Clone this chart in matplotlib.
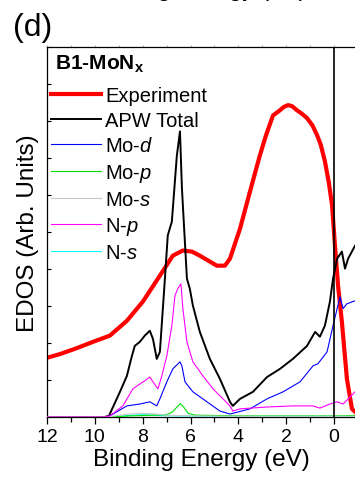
import matplotlib
matplotlib.use('Agg')
import matplotlib.pyplot as plt
from matplotlib.ticker import MultipleLocator

plt.rcParams['font.family'] = ['Liberation Sans', 'DejaVu Sans']
plt.rcParams['mathtext.fontset'] = 'custom'
plt.rcParams['mathtext.rm'] = 'Liberation Sans'
plt.rcParams['mathtext.it'] = 'Liberation Sans:italic'
plt.rcParams['mathtext.bf'] = 'Liberation Sans:bold'

# experiment (red)
e_exp = [12.0, 11.46, 10.8, 10.08, 9.37, 8.66, 7.99, 7.28, 6.74, 6.32, 5.94, 5.61, 4.90, 4.56,
         4.35, 3.93, 3.51, 3.10, 2.85, 2.55, 2.26, 2.1, 1.92, 1.75, 1.55, 1.35, 1.13, 0.9, 0.71,
         0.55, 0.38, 0.22, 0.08, -0.04, -0.17, -0.33, -0.54, -0.75, -0.88]
y_exp = [16.0, 17.0, 18.5, 20.3, 22.0, 26.0, 31.2, 38.2, 43.6, 45.0, 44.7, 43.6, 40.9, 40.9,
         42.8, 50.9, 61.0, 70.7, 76.0, 81.5, 82.9, 83.8, 84.3, 84.0, 82.9, 82.0, 80.8, 78.8, 76.2,
         73.5, 69.1, 63.5, 57.2, 46.3, 35.5, 25.7, 10.3, 2.2, 1.4]

# APW total (black)
e_tot = [12.0, 9.6, 9.41, 8.95, 8.66, 8.45, 8.33, 8.12, 7.91, 7.70, 7.57, 7.41, 7.28, 7.07, 6.95,
         6.78, 6.57, 6.44, 6.36, 6.15, 6.03, 5.90, 5.61, 5.19, 4.77, 4.35, 4.23, 3.93, 3.39,
         2.80, 2.26, 1.72, 1.13, 0.79, 0.59, 0.38, 0.17, 0.04, -0.13, -0.33, -0.46, -0.59, -0.88]
y_tot = [0.0, 0.0, 0.3, 6.8, 11.1, 16.5, 19.2, 20.3, 22.0, 23.3, 21.1, 15.7, 17.6, 37.4, 49.1,
         52.8, 70.7, 77.2, 62.0, 37.4, 34.7, 30.1, 23.0, 15.7, 10.3, 4.1, 3.0, 4.9, 6.8,
         10.8, 13.0, 15.7, 19.2, 23.0, 21.7, 24.7, 31.2, 37.4, 42.8, 44.7, 40.1, 42.8, 46.3]

# Mo-d (blue)
e_mod = [12.0, 9.6, 9.37, 8.66, 8.12, 7.70, 7.41, 7.28, 6.99, 6.74, 6.44, 6.36, 6.23, 5.90, 5.31,
         4.77, 4.35, 3.51, 2.80, 2.13, 1.42, 0.88, 0.67, 0.29, 0.04, -0.25, -0.38, -0.54, -0.88]
y_mod = [0.0, 0.0, 0.3, 3.0, 3.5, 4.1, 3.0, 4.9, 9.5, 13.0, 14.9, 13.8, 9.5, 6.8, 4.1,
         1.6, 0.8, 2.2, 4.9, 6.8, 9.5, 13.8, 14.4, 17.6, 24.7, 32.5, 29.3, 30.6, 31.4]

# Mo-p (green)
e_mop = [12.0, 9.5, 8.5, 7.5, 7.0, 6.75, 6.55, 6.42, 6.3, 6.1, 5.8, 4.0, 2.0, 0.0, -0.88]
y_mop = [0.0, 0.0, 0.3, 0.5, 0.6, 1.4, 2.8, 3.6, 2.8, 1.0, 0.5, 0.3, 0.3, 0.3, 0.4]

# Mo-s (gray)
e_mos = [12.0, 9.5, 8.8, 8.2, 7.6, 7.0, 6.0, 4.0, 0.0, -0.88]
y_mos = [0.0, 0.0, 0.6, 1.0, 0.9, 0.5, 0.3, 0.2, 0.2, 0.2]

# N-p (magenta)
e_np = [12.0, 9.6, 9.37, 8.83, 8.41, 8.12, 7.91, 7.70, 7.57, 7.36, 7.20, 6.99, 6.78, 6.65, 6.53,
        6.40, 6.32, 6.15, 5.90, 5.48, 5.06, 4.64, 4.35, 4.23, 3.93, 2.80, 1.72, 0.88, 0.59, 0.17,
        -0.13, -0.38, -0.88]
y_np = [0.0, 0.0, 0.3, 3.0, 7.6, 8.9, 9.8, 10.8, 9.5, 7.6, 11.1, 16.5, 24.7, 32.8, 34.7,
        36.0, 29.3, 20.3, 14.9, 11.1, 7.6, 4.9, 3.0, 1.6, 2.2, 2.7, 3.0, 3.0, 2.4, 3.5,
        4.1, 3.5, 6.8]

# N-s (cyan)
e_ns = [9.5, 8.6, 8.0, 7.4, 6.5, 5.0, 3.0, 1.0, -0.88]
y_ns = [0.0, 0.4, 0.6, 0.4, 0.3, 0.2, 0.2, 0.2, 0.2]

fig = plt.figure(figsize=(3.55, 4.81), dpi=100)
ax = fig.add_axes([0.1324, 0.131, 0.8676, 0.7692])

ax.plot(e_exp, y_exp, color='#ff0000', lw=3.0, label='Experiment', zorder=2)
ax.plot(e_tot, y_tot, color='black', lw=1.4, label='APW Total', zorder=3)
ax.plot(e_mod, y_mod, color='#0000ff', lw=0.8, label=r'Mo-$\mathit{d}$', zorder=3)
ax.plot(e_ns, y_ns, color='#00ffff', lw=0.8, zorder=3)
ax.plot(e_mop, y_mop, color='#00e000', lw=0.8, label=r'Mo-$\mathit{p}$', zorder=3)
ax.plot(e_mos, y_mos, color='#c8c8c8', lw=0.8, label=r'Mo-$\mathit{s}$', zorder=3)
ax.plot(e_np, y_np, color='#ff00ff', lw=0.8, label=r'N-$\mathit{p}$', zorder=3)
ax.plot([], [], color='#00ffff', lw=0.8, label=r'N-$\mathit{s}$')
ax.axvline(0, color='black', lw=1.2, zorder=4)

ax.set_xlim(12, -0.878)
ax.set_ylim(0, 100)
ax.spines['right'].set_visible(False)
for s in ['left', 'top', 'bottom']:
    ax.spines[s].set_linewidth(0.9)

ax.xaxis.set_major_locator(MultipleLocator(2))
ax.xaxis.set_minor_locator(MultipleLocator(1))
ax.yaxis.set_major_locator(MultipleLocator(10))
ax.tick_params(axis='x', which='major', direction='out', length=5, width=0.9, labelsize=14, pad=3)
ax.tick_params(axis='x', which='minor', direction='out', length=3.5, width=0.9)
ax.tick_params(axis='y', which='major', direction='in', length=3, width=0.8, labelleft=False)

top = ax.secondary_xaxis('top')
top.xaxis.set_major_locator(MultipleLocator(1))
top.tick_params(direction='out', length=1.5, width=0.8, color='#b0b0b0', labeltop=False)
top.spines['top'].set_visible(False)

ax.set_xlabel('Binding Energy (eV)', fontsize=17.5, labelpad=2)
ax.set_ylabel('EDOS (Arb. Units)', fontsize=17.5, labelpad=6)

ax.text(0.025, 0.985, r'B1-MoN$_\mathbf{x}$', transform=ax.transAxes, fontsize=15,
        fontweight='bold', va='top', ha='left')

ax.legend(loc='upper left', bbox_to_anchor=(0.012, 0.895), frameon=False, fontsize=14.5,
          handlelength=2.5, handletextpad=0.2, labelspacing=0.31, borderpad=0, borderaxespad=0)

fig.text(13 / 355, 1 - 36 / 481, '(d)', fontsize=23, va='baseline', ha='left')
fig.text(0.56, 1.008, 'Binding Energy (eV)', fontsize=17.5, va='baseline', ha='center')

fig.savefig('out.png', dpi=100)
